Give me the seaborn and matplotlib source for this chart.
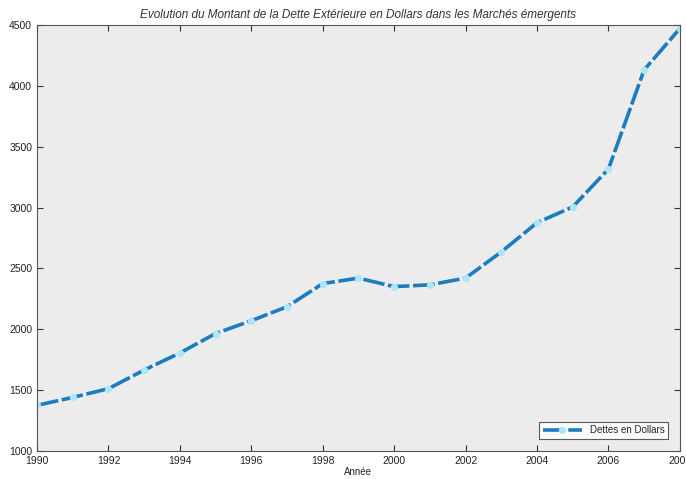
import pandas as pd
import matplotlib.pyplot as plt
import seaborn as sns

annees = list(range(1990, 2009))
dettes = [1375, 1440, 1512, 1665, 1805, 1965, 2070, 2185, 2375, 2420,
          2350, 2365, 2420, 2635, 2875, 3005, 3315, 4130, 4470]
titre = 'Evolution du Montant de la Dette Extérieure en Dollars dans les Marchés émergents'

df = pd.DataFrame({'Année': annees, 'Dettes en Dollars': dettes})

sns.set_style('ticks')
plt.rcParams['font.family'] = ['Liberation Sans', 'DejaVu Sans']

fig = plt.figure(figsize=(6.86, 4.79), dpi=100)
ax = fig.add_axes([0.054, 0.0585, 0.937, 0.8895])
ax.set_facecolor('#ececec')

sns.lineplot(data=df, x='Année', y='Dettes en Dollars', ax=ax,
             color='#1a7dc0', linewidth=2.6, linestyle=(0, (6, 1)),
             marker='o', markersize=4.5, markerfacecolor='#aee6f6',
             markeredgecolor='#aee6f6', label='Dettes en Dollars')

ax.set_xlim(1990, 2008)
ax.set_ylim(1000, 4500)
ax.set_xticks(range(1990, 2009, 2))
ax.set_yticks(range(1000, 4501, 500))
ax.tick_params(direction='in', top=True, right=True, labelsize=7.5, length=4,
               color='#333333', labelcolor='#222222')
for s in ax.spines.values():
    s.set_color('#555555')
    s.set_linewidth(0.8)

ax.set_xlabel('Année', fontsize=7, labelpad=1)
ax.set_ylabel('')
ax.set_title(titre, fontsize=8.5, style='italic', color='#333333', pad=5)

leg = ax.legend(loc='lower right', fontsize=7, frameon=True, fancybox=False,
                edgecolor='#333333', handlelength=4, borderaxespad=1.2)
leg.get_frame().set_linewidth(0.8)

fig.savefig('out.png', dpi=100)
